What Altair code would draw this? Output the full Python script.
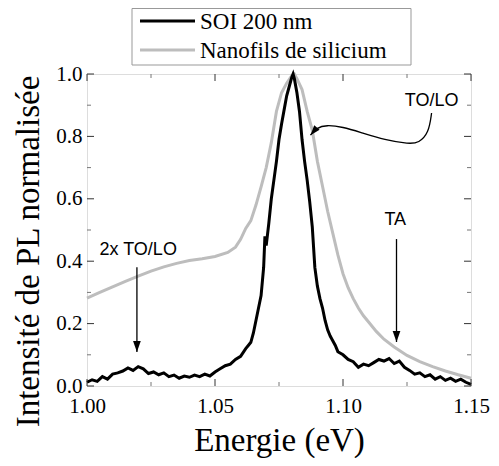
import altair as alt
import pandas as pd

# ---- data ----
soi_e = [1.000, 1.002, 1.004, 1.006, 1.008, 1.010, 1.012, 1.014, 1.016, 1.018,
         1.020, 1.022, 1.024, 1.026, 1.028, 1.030, 1.032, 1.034, 1.036, 1.038,
         1.040, 1.042, 1.044, 1.046, 1.048, 1.050, 1.052, 1.054, 1.056, 1.058,
         1.060, 1.062, 1.063, 1.064, 1.065, 1.066, 1.067, 1.068, 1.069, 1.0695,
         1.070, 1.071, 1.072, 1.073, 1.074, 1.075, 1.076, 1.077, 1.078, 1.079,
         1.080, 1.0805, 1.081, 1.082, 1.083, 1.084, 1.085, 1.086, 1.087, 1.088,
         1.089, 1.090, 1.091, 1.092, 1.093, 1.094, 1.095, 1.096, 1.097, 1.098,
         1.100, 1.102, 1.104, 1.106, 1.108, 1.110, 1.112, 1.114, 1.116, 1.118,
         1.120, 1.122, 1.124, 1.126, 1.128, 1.130, 1.132, 1.134, 1.136, 1.138,
         1.140, 1.142, 1.144, 1.146, 1.148, 1.150]
soi_i = [0.012, 0.020, 0.015, 0.030, 0.022, 0.038, 0.042, 0.048, 0.058, 0.050,
         0.062, 0.055, 0.040, 0.045, 0.036, 0.042, 0.030, 0.035, 0.025, 0.032,
         0.028, 0.035, 0.030, 0.038, 0.032, 0.045, 0.055, 0.065, 0.070, 0.085,
         0.095, 0.120, 0.130, 0.140, 0.170, 0.210, 0.250, 0.290, 0.380, 0.480,
         0.450, 0.520, 0.600, 0.660, 0.720, 0.790, 0.840, 0.885, 0.930, 0.960,
         0.990, 1.000, 0.985, 0.940, 0.880, 0.790, 0.720, 0.660, 0.590, 0.510,
         0.380, 0.320, 0.280, 0.250, 0.210, 0.180, 0.160, 0.145, 0.130, 0.110,
         0.100, 0.085, 0.078, 0.060, 0.070, 0.065, 0.075, 0.085, 0.080, 0.088,
         0.072, 0.080, 0.060, 0.050, 0.038, 0.042, 0.030, 0.036, 0.022, 0.030,
         0.018, 0.025, 0.015, 0.022, 0.012, 0.005]

nano_e = [1.000, 1.005, 1.010, 1.015, 1.020, 1.025, 1.030, 1.035, 1.040, 1.045,
          1.050, 1.055, 1.058, 1.060, 1.062, 1.064, 1.066, 1.068, 1.070, 1.072,
          1.074, 1.076, 1.078, 1.080, 1.081, 1.082, 1.084, 1.086, 1.088, 1.090,
          1.092, 1.094, 1.096, 1.098, 1.100, 1.102, 1.104, 1.106, 1.108, 1.110,
          1.113, 1.116, 1.120, 1.125, 1.130, 1.135, 1.140, 1.145, 1.150]
nano_i = [0.282, 0.300, 0.318, 0.335, 0.352, 0.368, 0.382, 0.393, 0.402, 0.408,
          0.415, 0.428, 0.445, 0.470, 0.505, 0.530, 0.580, 0.638, 0.700, 0.780,
          0.880, 0.940, 0.970, 0.995, 1.000, 0.985, 0.950, 0.880, 0.820, 0.720,
          0.640, 0.560, 0.490, 0.420, 0.360, 0.315, 0.280, 0.250, 0.225, 0.205,
          0.175, 0.150, 0.125, 0.098, 0.078, 0.062, 0.048, 0.036, 0.025]

series_names = ["SOI 200 nm", "Nanofils de silicium"]
series_colors = ["#000000", "#bdbdbd"]

# annotations (data coordinates)
label_text = ["TO/LO", "TA", "2x TO/LO"]
label_x = [1.1346, 1.1204, 1.0200]
label_y = [0.912, 0.532, 0.435]

curve_x = [1.1346, 1.1335, 1.1296, 1.1258, 1.1165, 1.1065, 1.1000, 1.0935, 1.0896, 1.0873]
curve_y = [0.875, 0.811, 0.779, 0.776, 0.788, 0.814, 0.830, 0.837, 0.827, 0.804]

arrow_x = [1.0195, 1.1209]
arrow_top = [0.381, 0.471]
arrow_tip = [0.109, 0.141]

x_major = [1.00, 1.05, 1.10, 1.15]
x_minor = [1.025, 1.075, 1.125]
y_major = [0.0, 0.2, 0.4, 0.6, 0.8, 1.0]
y_minor = [0.1, 0.3, 0.5, 0.7, 0.9]

W, H = 384, 312
SERIF = "Liberation Serif"
SANS = "Liberation Sans"

df_soi = pd.DataFrame({"E": soi_e, "I": soi_i, "s": series_names[0]})
df_nano = pd.DataFrame({"E": nano_e, "I": nano_i, "s": series_names[1]})

xs = alt.Scale(domain=[1.0, 1.15], nice=False, zero=False)
ys = alt.Scale(domain=[0.0, 1.0], nice=False)
cs = alt.Scale(domain=series_names, range=series_colors)

xaxis = alt.Axis(values=x_major, format=".2f", ticks=False, grid=False, domain=False,
                 labelFont=SERIF, labelFontSize=21, labelColor="black",
                 labelPadding=9, title="Energie (eV)", titleFont=SERIF,
                 titleFontSize=33, titleFontWeight="normal", titleColor="black",
                 titlePadding=8, labelFlush=False)
yaxis = alt.Axis(values=y_major, format=".1f", ticks=False, grid=False, domain=False,
                 labelFont=SERIF, labelFontSize=21, labelColor="black",
                 labelPadding=5, title="Intensité de PL normalisée",
                 titleFont=SERIF, titleFontSize=33, titleFontWeight="normal",
                 titleColor="black", titlePadding=10, titleY=177, labelFlush=False)

nano_line = alt.Chart(df_nano).mark_line(strokeWidth=3).encode(
    x=alt.X("E:Q", scale=xs, axis=xaxis),
    y=alt.Y("I:Q", scale=ys, axis=yaxis),
    color=alt.Color("s:N", scale=cs, legend=None),
)
soi_line = alt.Chart(df_soi).mark_line(strokeWidth=3).encode(
    x=alt.X("E:Q", scale=xs), y=alt.Y("I:Q", scale=ys),
    color=alt.Color("s:N", scale=cs, legend=None),
)

txt = alt.Chart(pd.DataFrame({"t": label_text, "x": label_x, "y": label_y})).mark_text(
    font=SANS, fontSize=18, color="black", align="center", baseline="middle"
).encode(x=alt.X("x:Q", scale=xs), y=alt.Y("y:Q", scale=ys), text="t:N")

curve = alt.Chart(pd.DataFrame({"x": curve_x, "y": curve_y, "i": list(range(len(curve_x)))})).mark_line(
    color="black", strokeWidth=1.3, interpolate="basis"
).encode(x=alt.X("x:Q", scale=xs), y=alt.Y("y:Q", scale=ys), order="i:Q")

head_path = "M0,0L-0.35,-1L0.35,-1Z"
curve_head = alt.Chart(pd.DataFrame({"x": [curve_x[-1]], "y": [curve_y[-1]]})).mark_point(
    shape=head_path, filled=True, color="black", size=400, angle=40, opacity=1
).encode(x=alt.X("x:Q", scale=xs), y=alt.Y("y:Q", scale=ys))

arr_df = pd.DataFrame({"x": arrow_x, "y": arrow_top, "y2": arrow_tip})
arrows = alt.Chart(arr_df).mark_rule(color="black", strokeWidth=1.3).encode(
    x=alt.X("x:Q", scale=xs), y=alt.Y("y:Q", scale=ys), y2="y2:Q")
heads = alt.Chart(arr_df).mark_point(
    shape=head_path, filled=True, color="black", size=484, opacity=1
).encode(x=alt.X("x:Q", scale=xs), y=alt.Y("y2:Q", scale=ys))

# inward ticks on all four sides
def xticks(vals, length, color):
    d = pd.DataFrame({"v": vals})
    b = alt.Chart(d).mark_rule(color=color, strokeWidth=1)
    return (b.encode(x=alt.X("v:Q", scale=xs), y=alt.value(H), y2=alt.value(H - length)) +
            b.encode(x=alt.X("v:Q", scale=xs), y=alt.value(0), y2=alt.value(length)))

def yticks(vals, length, color):
    d = pd.DataFrame({"v": vals})
    b = alt.Chart(d).mark_rule(color=color, strokeWidth=1)
    return (b.encode(y=alt.Y("v:Q", scale=ys), x=alt.value(0), x2=alt.value(length)) +
            b.encode(y=alt.Y("v:Q", scale=ys), x=alt.value(W), x2=alt.value(W - length)))

ticks = (xticks(x_major, 7, "#333333") + xticks(x_minor, 4, "#777777") +
         yticks(y_major, 7, "#333333") + yticks(y_minor, 4, "#777777"))

# legend box drawn above the plot area
leg_box = alt.Chart(pd.DataFrame({"a": [0]})).mark_rect(
    fill="white", stroke="#999999", strokeWidth=1
).encode(x=alt.value(45), x2=alt.value(324), y=alt.value(-65.5), y2=alt.value(-9))

leg_df = pd.DataFrame({"s": series_names, "row": [0, 1]})
leg_row_y = [-53, -24]
leg_lines = alt.layer(*[
    alt.Chart(leg_df.iloc[[k]]).mark_rule(strokeWidth=3).encode(
        x=alt.value(53), x2=alt.value(108), y=alt.value(leg_row_y[k]),
        color=alt.Color("s:N", scale=cs, legend=None))
    for k in range(2)
])
leg_text = alt.layer(*[
    alt.Chart(leg_df.iloc[[k]]).mark_text(
        font=SERIF, fontSize=23, color="black", align="left", baseline="middle"
    ).encode(x=alt.value(113), y=alt.value(leg_row_y[k] + 1), text="s:N")
    for k in range(2)
])

chart = alt.layer(nano_line, soi_line, ticks, curve, curve_head, arrows, heads, txt,
                  leg_box, leg_lines, leg_text).properties(
    width=W, height=H,
    autosize=alt.AutoSizeParams(type="none"),
    padding={"left": 79, "top": 66, "right": 20, "bottom": 72},
).configure_view(stroke="black", strokeWidth=1.2).configure(background="white")

chart.save("out.html", embed_options={"renderer": "svg", "actions": False})
